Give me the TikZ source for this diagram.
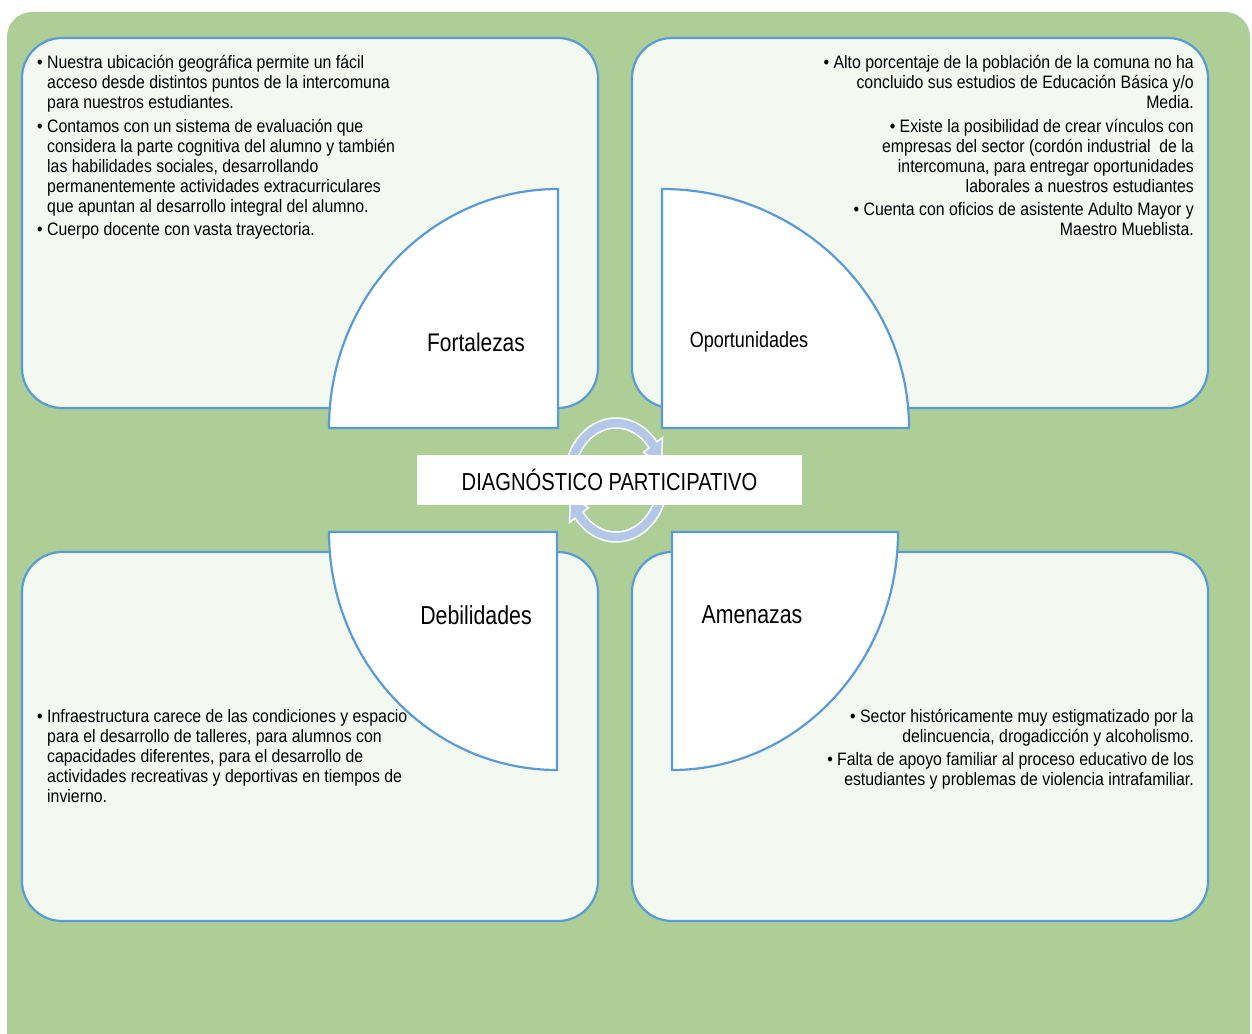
\documentclass[tikz,border=0pt]{standalone}
\usepackage{fontspec}
\setmainfont{Liberation Sans}[FakeStretch=0.82]
\newfontfamily\bodyfont{Liberation Sans}[FakeStretch=0.88]
\definecolor{bggreen}{HTML}{ADCE96}
\definecolor{boxfill}{HTML}{F3F8F1}
\definecolor{edgeblue}{HTML}{5B9BD5}
\definecolor{arrowblue}{HTML}{B4C7E7}
\newcommand{\bl}{\makebox[10pt][l]{•}}
\newcommand{\ct}{\hspace*{10pt}}
\begin{document}
\begin{tikzpicture}[x=1pt,y=-1pt,
  panel/.style={draw=edgeblue, line width=2.2pt, fill=boxfill, rounded corners=40pt},
  wedge/.style={draw=edgeblue, line width=2.2pt, fill=white},
  body/.style={inner sep=0pt, font=\bodyfont\fontsize{18}{20}\selectfont, text=black},
  lbl/.style={inner sep=0pt, font=\fontsize{26}{30}\selectfont, text=black},
  cyc/.style={fill=arrowblue, draw=white, line width=1.5pt}]
\useasboundingbox (0,0) rectangle (1252,1033);
\clip (0,0) rectangle (1252,1033);
% background
\fill[bggreen, rounded corners=25pt] (7,12) rectangle (1250,1080);
% panels
\draw[panel] (22,38) rectangle (598,408);
\draw[panel] (632,38) rectangle (1208,408);
\draw[panel] (22,552) rectangle (598,921);
\draw[panel] (632,552) rectangle (1208,921);
% wedges
\draw[wedge] (558,428) -- (329,428) arc[start angle=180, end angle=270, x radius=229, y radius=239] -- cycle;
\draw[wedge] (662,428) -- (662,189) arc[start angle=270, end angle=360, x radius=247, y radius=239] -- cycle;
\draw[wedge] (557,532) -- (329,532) arc[start angle=180, end angle=90, x radius=228, y radius=238] -- cycle;
\draw[wedge] (672,532) -- (672,770) arc[start angle=90, end angle=0, x radius=226, y radius=238] -- cycle;
% circular arrows
\begin{scope}[shift={(616,480)}]
  \path[cyc] (160:52 and 62) arc[start angle=160, end angle=322, x radius=52, y radius=62]
    -- (322:59 and 69) -- (345:47 and 57) -- (322:35 and 45) -- (322:42 and 52)
    arc[start angle=322, end angle=160, x radius=42, y radius=52] -- cycle;
  \path[cyc] (-20:52 and 62) arc[start angle=-20, end angle=142, x radius=52, y radius=62]
    -- (142:59 and 69) -- (165:47 and 57) -- (142:35 and 45) -- (142:42 and 52)
    arc[start angle=142, end angle=-20, x radius=42, y radius=52] -- cycle;
\end{scope}
% title
\node[fill=white, inner sep=0pt, minimum width=385pt, minimum height=50pt,
      font=\fontsize{24.6}{28}\selectfont] (title) at (609.5,480) {DIAGNÓSTICO PARTICIPATIVO};
% labels
\node[lbl, font=\fontsize{25.5}{30}\selectfont] (fort) at (476,342) {Fortalezas};
\node[lbl, font=\fontsize{22}{25}\selectfont] (oport) at (749,342) {Oportunidades};
\node[lbl] (deb) at (476,615) {Debilidades};
\node[lbl] (amen) at (752,615) {Amenazas};
% texts
\node[body, anchor=north west, align=left] (tfort) at (37,55) {%
\bl Nuestra ubicación geográfica permite un fácil\\
\ct acceso desde distintos puntos de la intercomuna\\
\ct para nuestros estudiantes.\\[4pt]
\bl Contamos con un sistema de evaluación que\\
\ct considera la parte cognitiva del alumno y también\\
\ct las habilidades sociales, desarrollando\\
\ct permanentemente actividades extracurriculares\\
\ct que apuntan al desarrollo integral del alumno.\\[3pt]
\bl Cuerpo docente con vasta trayectoria.};
\node[body, anchor=north east, align=right] (toport) at (1194,55) {%
• Alto porcentaje de la población de la comuna no ha\\
concluido sus estudios de Educación Básica y/o\\
Media.\\[4pt]
• Existe la posibilidad de crear vínculos con\\
empresas del sector (cordón industrial\ \ de la\\
intercomuna, para entregar oportunidades\\
laborales a nuestros estudiantes\\[3pt]
• Cuenta con oficios de asistente Adulto Mayor y\\
Maestro Mueblista.};
\node[body, anchor=north west, align=left] (tdeb) at (37,709) {%
\bl Infraestructura carece de las condiciones y espacio\\
\ct para el desarrollo de talleres, para alumnos con\\
\ct capacidades diferentes, para el desarrollo de\\
\ct actividades recreativas y deportivas en tiempos de\\
\ct invierno.};
\node[body, anchor=north east, align=right] (tamen) at (1194,709) {%
• Sector históricamente muy estigmatizado por la\\
delincuencia, drogadicción y alcoholismo.\\[3pt]
• Falta de apoyo familiar al proceso educativo de los\\
estudiantes y problemas de violencia intrafamiliar.};
\end{tikzpicture}
\end{document}
